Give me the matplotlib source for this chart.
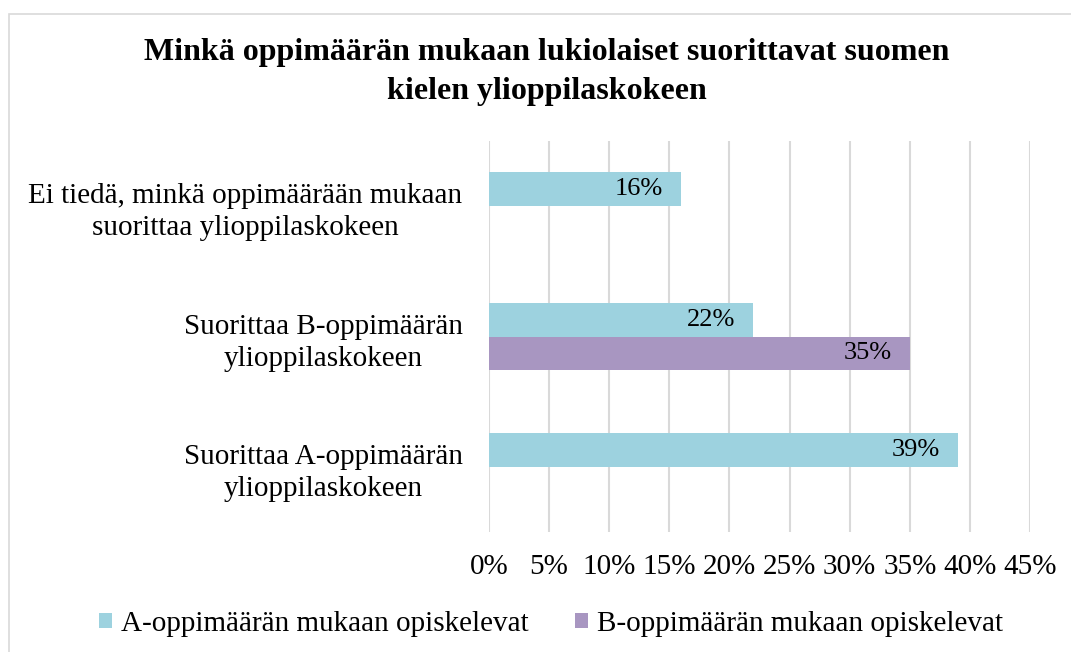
import matplotlib.pyplot as plt
from matplotlib.patches import Rectangle
import numpy as np

# Data
categories = ['Ei tiedä, minkä oppimäärään mukaan\nsuorittaa ylioppilaskokeen',
              'Suorittaa B-oppimäärän\nylioppilaskokeen',
              'Suorittaa A-oppimäärän\nylioppilaskokeen']
a_values = [16, 22, 39]
b_values = [None, 35, None]
series_names = ['A-oppimäärän mukaan opiskelevat', 'B-oppimäärän mukaan opiskelevat']
x_ticks = [0, 5, 10, 15, 20, 25, 30, 35, 40, 45]

title = 'Minkä oppimäärän mukaan lukiolaiset suorittavat suomen\nkielen ylioppilaskokeen'

col_a = '#9dd2df'
col_b = '#a896c1'

plt.rcParams['font.family'] = ['Liberation Serif', 'DejaVu Serif']

fig = plt.figure(figsize=(10.71, 6.52), dpi=100)
ax = fig.add_axes([489 / 1071, 1 - 532 / 652, (1030 - 489) / 1071, (532 - 141) / 652])

# Outer chart border
fig.patches.append(Rectangle((8.5 / 1071, -0.1), 1.2, 1.1 - 13.5 / 652,
                             transform=fig.transFigure, fill=False,
                             edgecolor='#d9d9d9', linewidth=1.2))

y = np.arange(len(categories))[::-1].astype(float)
h = 0.26

bars_a = ax.barh(y + h / 2, a_values, height=h, color=col_a, label=series_names[0])
b_plot = [v if v is not None else 0 for v in b_values]
bars_b = ax.barh(y - h / 2, b_plot, height=h, color=col_b, label=series_names[1])

for bar, v in zip(bars_a, a_values):
    ax.text(v - 1.5, bar.get_y() + bar.get_height() / 2, f'{v}%',
            ha='right', va='center', fontsize=19)
for bar, v in zip(bars_b, b_values):
    if v is None:
        continue
    ax.text(v - 1.5, bar.get_y() + bar.get_height() / 2, f'{v}%',
            ha='right', va='center', fontsize=19)

ax.set_xlim(0, 45)
ax.set_ylim(-0.5, len(categories) - 0.5)
ax.set_xticks(x_ticks)
ax.set_xticklabels([f'{t}%' for t in x_ticks], fontsize=21)
ax.set_yticks(y)
ax.set_yticklabels(categories, fontsize=21, linespacing=1.3, multialignment='center')
ax.tick_params(axis='both', length=0)
ax.tick_params(axis='x', pad=16)
ax.tick_params(axis='y', pad=19)
ax.grid(axis='x', color='#d9d9d9', linewidth=1.5)
ax.set_axisbelow(True)
for s in ax.spines.values():
    s.set_visible(False)

fig.text(547 / 1071, 1 - 72 / 652, title, ha='center', va='center',
         fontsize=23, fontweight='bold', linespacing=1.45)

fig.legend(handles=[bars_a, bars_b], labels=series_names, loc='center',
           bbox_to_anchor=(551 / 1071, 1 - 624 / 652), ncol=2, frameon=False,
           fontsize=21, handlelength=0.45, handleheight=0.45, handletextpad=0.3,
           columnspacing=1.6)

fig.savefig('out.png', dpi=100)
